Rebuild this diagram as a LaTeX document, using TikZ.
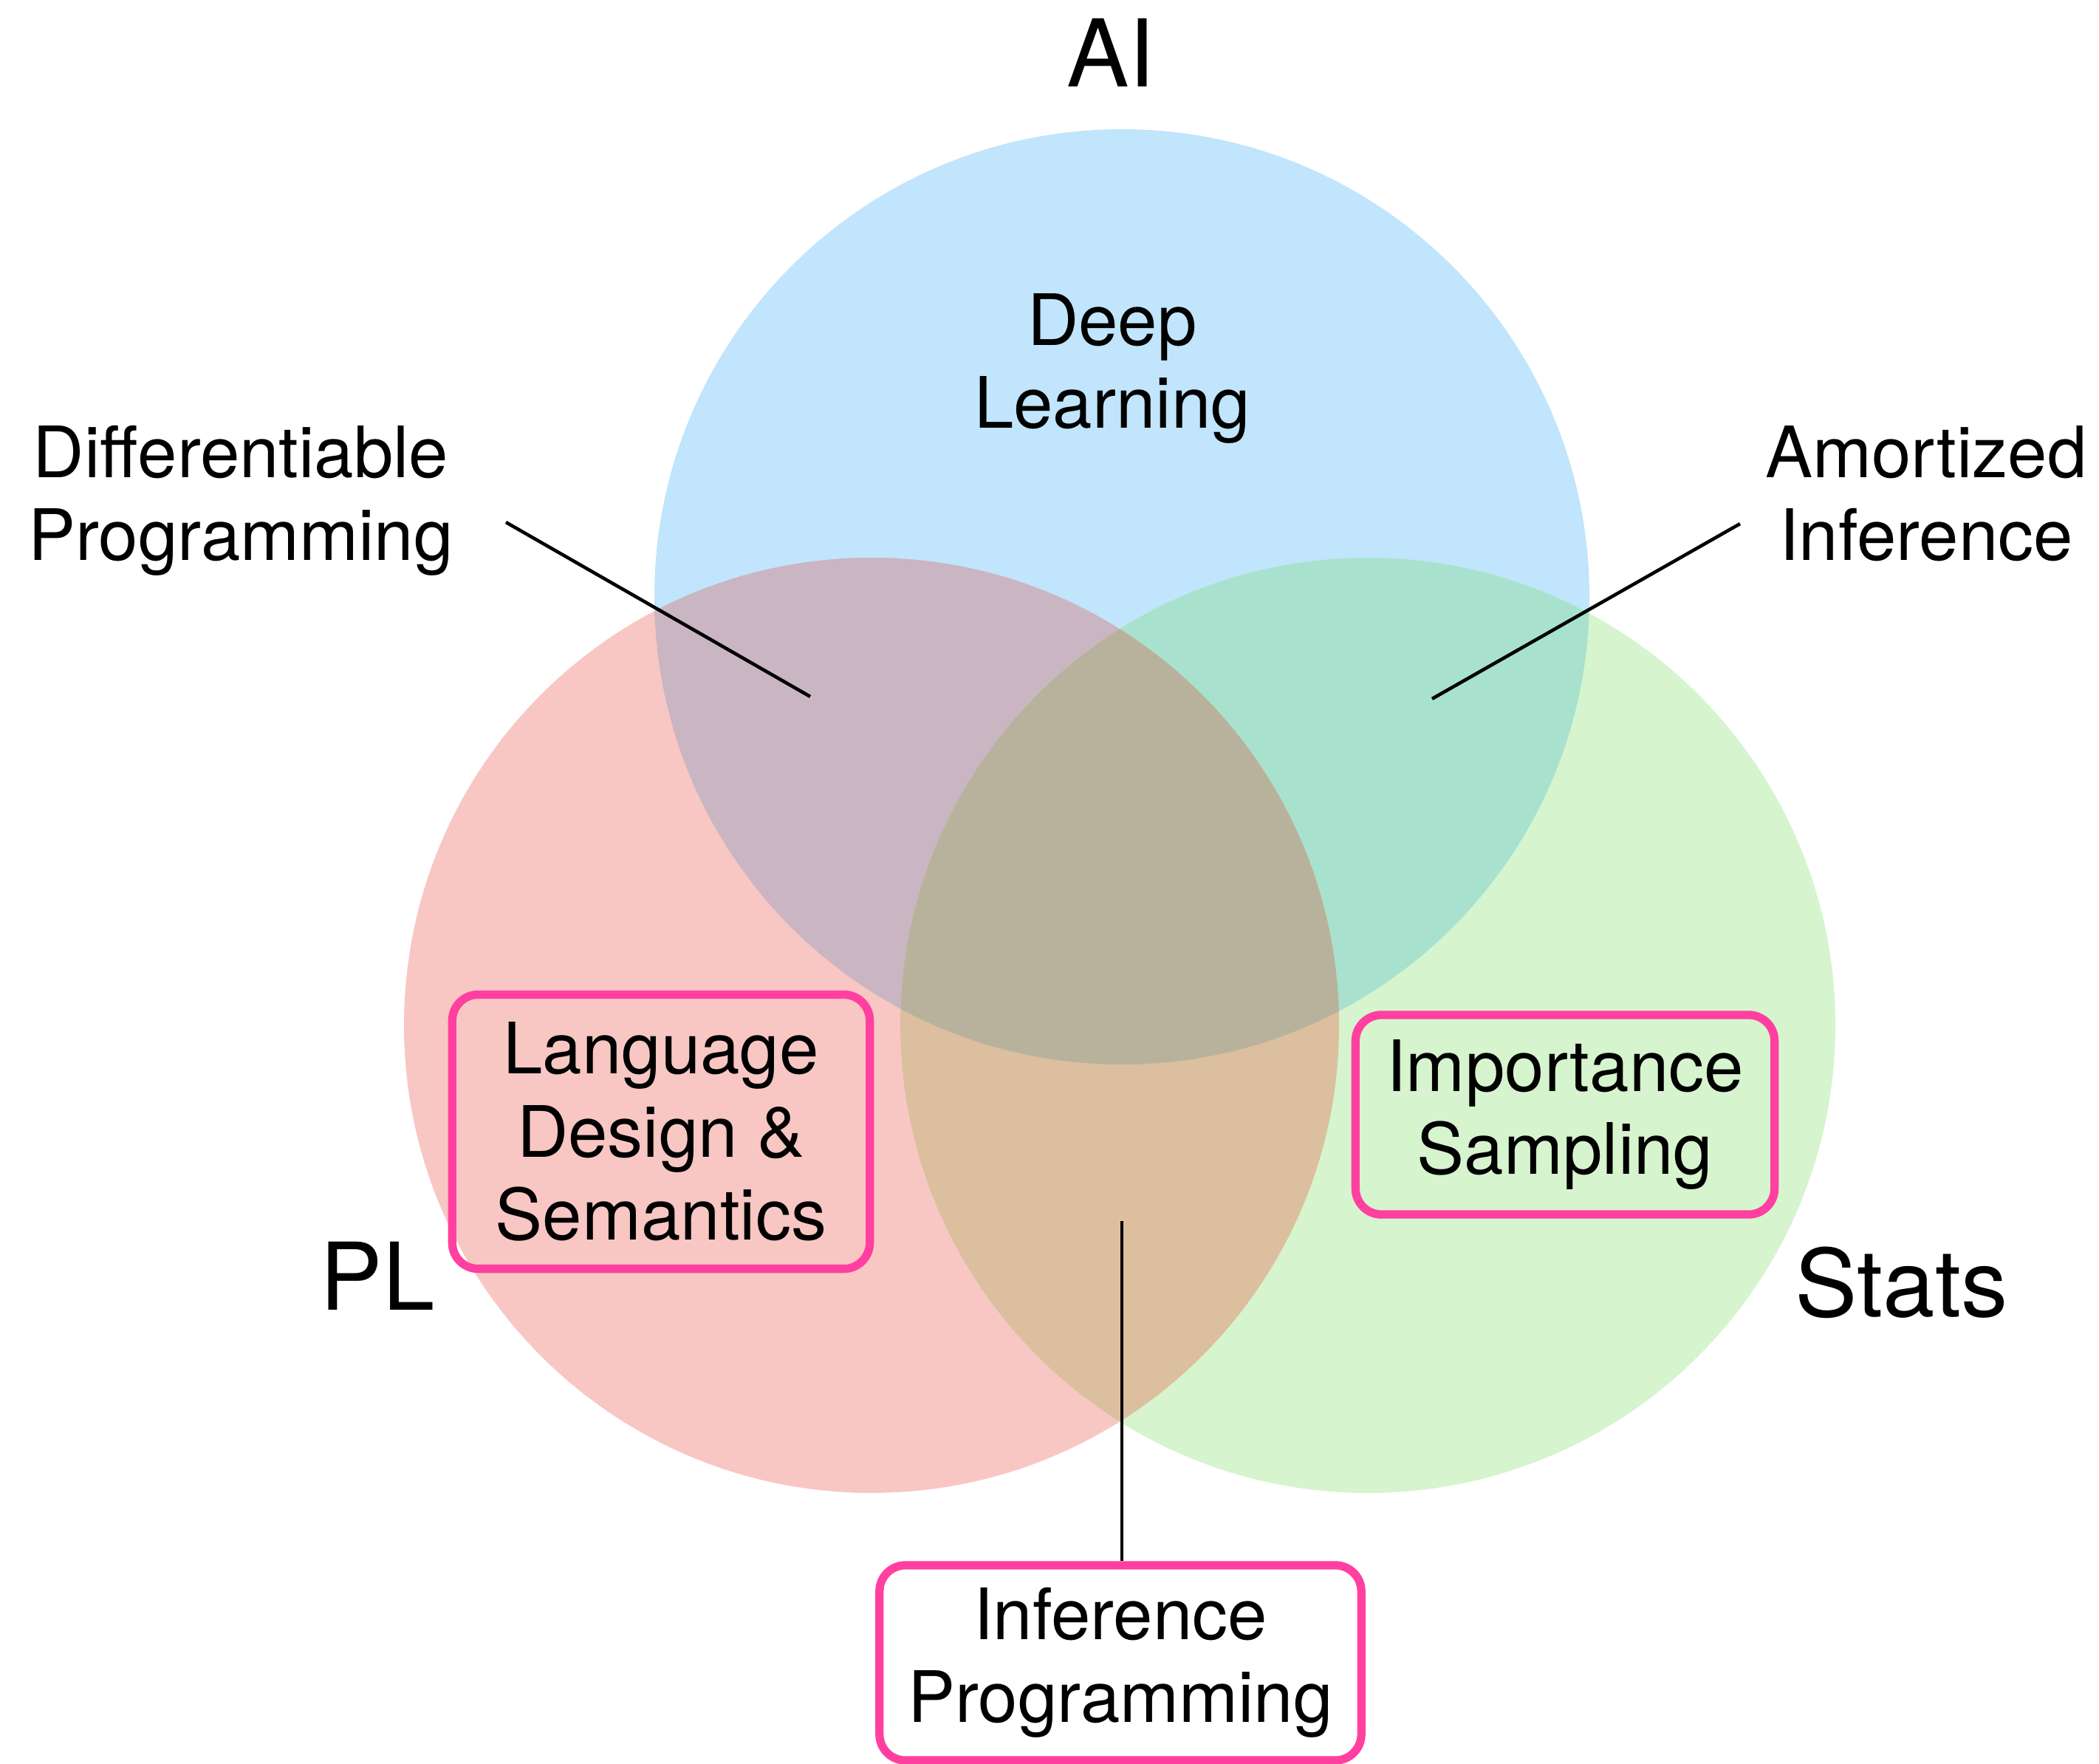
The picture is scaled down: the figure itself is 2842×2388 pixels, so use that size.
\documentclass[tikz,border=0pt]{standalone}
\usepackage{fontspec}
\setmainfont{TeX Gyre Heros}
\definecolor{cAI}{HTML}{C0E5FC}
\definecolor{cPL}{HTML}{F8C7C3}
\definecolor{cST}{HTML}{D6F4CD}
\definecolor{cPLAI}{HTML}{C9B6C2}
\definecolor{cAIST}{HTML}{A8E2CE}
\definecolor{cPLST}{HTML}{DCBF9E}
\definecolor{cALL}{HTML}{B8B29C}
\definecolor{boxpink}{HTML}{FF40A0}
\begin{document}
\begin{tikzpicture}[x=0.01cm,y=-0.01cm,
  lbl/.style={font=\fontsize{27.3}{31.9}\selectfont, align=center, inner sep=0pt},
  big/.style={font=\fontsize{36}{40}\selectfont, inner sep=0pt},
  pinkbox/.style={draw=boxpink, line width=3.2pt, rounded corners=10pt, align=center,
    font=\fontsize{27.3}{31.9}\selectfont, inner sep=0pt},
  leader/.style={draw=black, line width=1.3pt}]
\useasboundingbox (0,0) rectangle (2842,2388);
\fill[white] (0,0) rectangle (2842,2388);
% circles
\fill[cAI] (1519,808) circle (633);
\fill[cPL] (1180,1388) circle (633);
\fill[cST] (1852,1388) circle (633);
\begin{scope}
  \clip (1519,808) circle (633);
  \fill[cPLAI] (1180,1388) circle (633);
  \fill[cAIST] (1852,1388) circle (633);
\end{scope}
\begin{scope}
  \clip (1180,1388) circle (633);
  \fill[cPLST] (1852,1388) circle (633);
\end{scope}
\begin{scope}
  \clip (1519,808) circle (633);
  \clip (1180,1388) circle (633);
  \fill[cALL] (1852,1388) circle (633);
\end{scope}
% big labels
\node[big, anchor=base] (ai) at (1504,118) {AI};
\node[big, anchor=base west] (pl) at (433,1773) {PL};
\node[big, anchor=base west] (stats) at (2430,1782) {Stats};
% region labels
\node[lbl] (deep) at (1506,499) {Deep\\Learning};
\node[lbl] (diff) at (326,678) {Differentiable\\Programming};
\node[lbl] (amort) at (2608,668) {Amortized\\Inference};
% boxes
\node[pinkbox, minimum width=5.65cm, minimum height=3.71cm] (lang) at (895,1532)
  {Language\\Design \&\\Semantics};
\node[pinkbox, minimum width=5.67cm, minimum height=2.70cm] (imp) at (2119,1509)
  {Importance\\Sampling};
\node[pinkbox, minimum width=6.52cm, minimum height=2.64cm] (infp) at (1517,2251)
  {Inference\\Programming};
% leader lines
\coordinate (diffS) at (685,707);
\coordinate (diffE) at (1097,943);
\coordinate (amS) at (2356,709);
\coordinate (amE) at (1939,946);
\coordinate (infS) at (1519,1653);
\draw[leader] (diffS) -- (diffE);
\draw[leader] (amS) -- (amE);
\draw[leader] (infS) -- (infS |- infp.north);
\end{tikzpicture}
\end{document}
